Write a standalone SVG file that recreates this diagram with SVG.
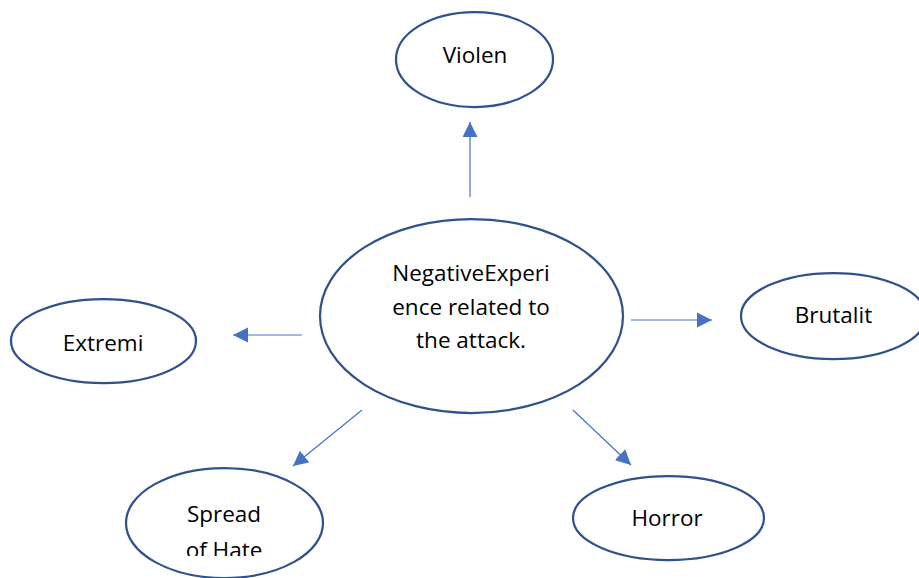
<svg xmlns="http://www.w3.org/2000/svg" width="919" height="578" viewBox="0 0 919 578">
<style>
.node{fill:#fff;stroke:#2F528F;stroke-width:2.25}
.lbl{font-family:"Open Sans","Liberation Sans",sans-serif;font-size:22.5px;fill:#000;text-anchor:middle}
.conn{stroke:#4472C4;stroke-width:1.2;fill:none;marker-end:url(#ah)}
</style>
<defs>
<marker id="ah" markerUnits="userSpaceOnUse" markerWidth="16" markerHeight="16" refX="15" refY="7.5" orient="auto">
<path d="M0,0 L15,7.5 L0,15 Z" fill="#4472C4"/>
</marker>
<clipPath id="clipHate"><rect x="120" y="460" width="220" height="96"/></clipPath>
</defs>
<rect width="919" height="578" fill="#fff"/>
<g id="connectors">
<line class="conn" x1="470" y1="197" x2="470" y2="122"/>
<line class="conn" x1="631" y1="320" x2="712" y2="320"/>
<line class="conn" x1="302" y1="335" x2="233" y2="335"/>
<line class="conn" x1="362" y1="410" x2="293" y2="466"/>
<line class="conn" x1="573" y1="410" x2="631" y2="465"/>
</g>
<g id="center">
<ellipse class="node" cx="471.5" cy="316" rx="151.5" ry="97"/>
<text class="lbl" x="471" y="281">NegativeExperi</text>
<text class="lbl" x="471" y="315">ence related to</text>
<text class="lbl" x="471" y="348">the attack.</text>
</g>
<g id="violen">
<ellipse class="node" cx="474.5" cy="59.5" rx="78.5" ry="47.5"/>
<text class="lbl" x="475" y="63">Violen</text>
</g>
<g id="brutalit">
<ellipse class="node" cx="833.5" cy="316" rx="92.5" ry="43"/>
<text class="lbl" x="833.5" y="323">Brutalit</text>
</g>
<g id="extremi">
<ellipse class="node" cx="103.5" cy="341" rx="92.5" ry="42"/>
<text class="lbl" x="103" y="351">Extremi</text>
</g>
<g id="spread">
<ellipse class="node" cx="224.5" cy="523" rx="98.5" ry="55"/>
<g clip-path="url(#clipHate)">
<text class="lbl" x="224" y="522">Spread</text>
<text class="lbl" x="224" y="558">of Hate</text>
</g>
</g>
<g id="horror">
<ellipse class="node" cx="668.5" cy="518" rx="95.5" ry="42"/>
<text class="lbl" x="667" y="526">Horror</text>
</g>
</svg>
